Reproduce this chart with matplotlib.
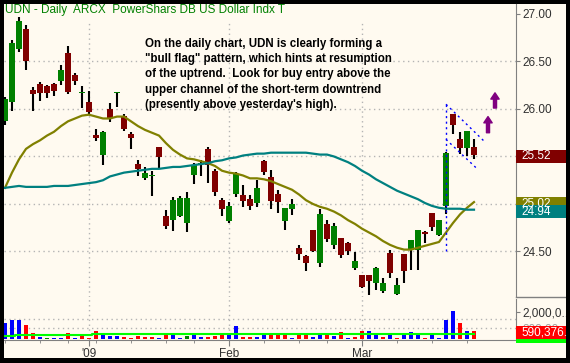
import numpy as np
import pandas as pd
import matplotlib
matplotlib.use('Agg')
import matplotlib.pyplot as plt
from matplotlib.patches import Rectangle
from matplotlib.transforms import blended_transform_factory

################################################################
# data (UDN daily, Dec 15 2008 - Mar 24 2009)

holidays = ['2008-12-25', '2009-01-01', '2009-01-19', '2009-02-16']
dates = pd.bdate_range('2008-12-15', '2009-03-24', freq='C', holidays=holidays)

opens = [25.87, 26.07, 26.63, 26.84, 26.20, 26.26, 26.24, 26.26, 26.29, 26.59,
         26.36, 26.17, 26.07, 25.73, 25.52, 26.00, 26.17, 25.93, 25.74, 25.42,
         25.27, 25.29, 25.60, 24.87, 24.83, 24.87, 24.80, 25.30, 25.42, 25.58,
         25.35, 25.04, 24.82, 25.11, 25.09, 25.05, 25.01, 25.45, 25.28, 25.11,
         24.82, 24.95, 24.54, 24.45, 24.73, 24.38, 24.79, 24.57, 24.64, 24.59,
         24.33, 24.25, 24.25, 24.17, 24.08, 24.48, 24.05, 24.47, 24.52, 24.52,
         24.71, 24.91, 24.67, 24.98, 25.95, 25.68, 25.59, 25.60]
highs = [26.13, 26.73, 26.97, 26.88, 26.23, 26.28, 26.25, 26.27, 26.46, 26.66,
         26.38, 26.24, 26.19, 25.79, 25.77, 26.06, 26.18, 25.95, 25.76, 25.46,
         25.39, 25.35, 25.60, 24.94, 25.07, 25.08, 25.13, 25.43, 25.46, 25.60,
         25.37, 25.06, 25.02, 25.34, 25.20, 25.09, 25.25, 25.46, 25.36, 25.15,
         24.96, 25.05, 24.57, 24.46, 24.73, 24.95, 24.83, 24.80, 24.64, 24.60,
         24.49, 24.25, 24.25, 24.34, 24.22, 24.52, 24.22, 24.47, 24.62, 24.73,
         24.72, 24.91, 24.83, 25.55, 25.95, 25.76, 25.77, 25.68]
lows = [25.83, 25.98, 26.60, 26.41, 25.98, 26.08, 26.12, 26.14, 26.25, 26.16,
        26.25, 26.01, 25.95, 25.66, 25.41, 25.86, 26.02, 25.77, 25.58, 25.29,
        25.25, 25.08, 25.38, 24.74, 24.72, 24.86, 24.70, 25.21, 25.29, 25.22,
        25.08, 24.87, 24.80, 25.07, 24.97, 24.94, 24.97, 25.31, 24.95, 24.91,
        24.73, 24.88, 24.41, 24.29, 24.49, 24.34, 24.60, 24.53, 24.43, 24.46,
        24.30, 24.12, 24.04, 24.09, 24.06, 24.22, 24.04, 24.17, 24.31, 24.31,
        24.59, 24.72, 24.66, 24.89, 25.74, 25.53, 25.50, 25.47]
closes = [26.11, 26.69, 26.93, 26.51, 26.16, 26.17, 26.17, 26.19, 26.41, 26.18,
          26.29, 26.18, 25.97, 25.69, 25.76, 25.91, 26.18, 25.79, 25.69, 25.37,
          25.33, 25.30, 25.49, 24.77, 25.04, 25.06, 25.06, 25.41, 25.43, 25.41,
          25.13, 24.95, 24.98, 25.32, 25.03, 24.98, 25.17, 25.34, 25.03, 25.02,
          24.96, 25.00, 24.47, 24.38, 24.50, 24.89, 24.63, 24.77, 24.46, 24.51,
          24.40, 24.13, 24.19, 24.33, 24.17, 24.27, 24.15, 24.29, 24.62, 24.73,
          24.68, 24.76, 24.83, 25.54, 25.83, 25.59, 25.77, 25.52]

# 20 day (olive) and 50 day (teal) moving averages as drawn
ma_short = [25.17, 25.33, 25.47, 25.58, 25.63, 25.67, 25.72, 25.76, 25.82, 25.87,
            25.90, 25.93, 25.94, 25.92, 25.90, 25.90, 25.92, 25.92, 25.87, 25.82,
            25.78, 25.75, 25.72, 25.64, 25.57, 25.52, 25.48, 25.47, 25.45, 25.43,
            25.40, 25.35, 25.33, 25.32, 25.30, 25.27, 25.27, 25.26, 25.24, 25.21,
            25.18, 25.15, 25.10, 25.04, 25.00, 24.97, 24.95, 24.92, 24.88, 24.83,
            24.79, 24.74, 24.70, 24.66, 24.61, 24.57, 24.54, 24.52, 24.52, 24.54,
            24.56, 24.58, 24.60, 24.70, 24.80, 24.89, 24.96, 25.02]
ma_long = [25.17, 25.18, 25.19, 25.18, 25.18, 25.18, 25.18, 25.19, 25.19, 25.19,
           25.20, 25.21, 25.22, 25.23, 25.25, 25.29, 25.31, 25.33, 25.34, 25.35,
           25.36, 25.37, 25.37, 25.38, 25.39, 25.39, 25.40, 25.41, 25.42, 25.43,
           25.45, 25.46, 25.48, 25.49, 25.51, 25.52, 25.53, 25.53, 25.54, 25.54,
           25.54, 25.54, 25.54, 25.54, 25.53, 25.52, 25.52, 25.50, 25.47, 25.44,
           25.40, 25.35, 25.31, 25.26, 25.22, 25.18, 25.14, 25.11, 25.08, 25.05,
           25.01, 24.98, 24.96, 24.95, 24.95, 24.95, 24.94, 24.94]

# volume, millions of shares
volume = [1.19, 1.38, 1.38, 1.04, 0.44, 0.15, 0.07, 0.07, 0.07, 0.44,
          0.07, 0.29, 0.07, 0.58, 0.39, 0.22, 0.22, 0.15, 0.07, 0.22,
          0.15, 0.15, 0.07, 0.39, 0.39, 0.07, 0.22, 0.29, 0.15, 0.15,
          0.22, 0.29, 0.29, 0.95, 0.15, 0.15, 0.15, 0.29, 0.29, 0.29,
          0.29, 0.07, 0.36, 0.29, 0.15, 0.29, 0.44, 0.22, 0.51, 0.07,
          0.15, 0.58, 0.58, 0.29, 0.15, 0.36, 0.07, 0.29, 0.51, 0.44,
          0.07, 0.44, 0.07, 1.38, 2.04, 1.16, 0.58, 0.59]
volume_avg = [0.22, 0.22, 0.29, 0.29, 0.29, 0.29, 0.29, 0.29, 0.29, 0.29,
              0.29, 0.29, 0.29, 0.36, 0.36, 0.36, 0.36, 0.36, 0.36, 0.36,
              0.36, 0.36, 0.36, 0.36, 0.36, 0.36, 0.36, 0.36, 0.36, 0.36,
              0.36, 0.36, 0.36, 0.36, 0.36, 0.36, 0.36, 0.36, 0.36, 0.36,
              0.36, 0.36, 0.36, 0.36, 0.36, 0.36, 0.36, 0.36, 0.36, 0.36,
              0.36, 0.36, 0.36, 0.36, 0.36, 0.36, 0.36, 0.36, 0.36, 0.36,
              0.36, 0.36, 0.36, 0.36, 0.36, 0.36, 0.36, 0.36]
last_volume = 590376

# flag drawing and arrows (bar index, price)
flag_pole = ([63.0, 63.0], [24.50, 26.05])
flag_upper = ([63.0, 68.6], [26.05, 25.65])
flag_lower = ([63.0, 67.6], [25.68, 25.36])
arrows = [((69.0, 25.75), (69.0, 25.92)), ((70.0, 26.01), (70.0, 26.17))]

title = 'UDN - Daily  ARCX  PowerShars DB US Dollar Indx T'
note = ('On the daily chart, UDN is clearly forming a\n'
        '"bull flag" pattern, which hints at resumption\n'
        'of the uptrend.  Look for buy entry above the\n'
        'upper channel of the short-term downtrend\n'
        '(presently above yesterday\'s high).')

################################################################

plt.rcParams['font.family'] = ['Liberation Sans', 'DejaVu Sans']

W, H = 570, 363
CREAM = '#fffaf0'
GRID = '#b4b4b4'
AXC = '#808080'
TXT = '#303030'


def fx(x):
    return x / W


def fy(y):
    return 1 - y / H


idx = np.arange(len(dates))
o = np.array(opens)
c = np.array(closes)
vol = np.array(volume) * 1e6

fig = plt.figure(figsize=(W / 100, H / 100), dpi=100, facecolor='black')
fig.add_artist(Rectangle((fx(3.5), fy(358)), fx(566) - fx(3.5), fy(4) - fy(358),
                         transform=fig.transFigure, facecolor=CREAM,
                         edgecolor='none', zorder=-1))

ax = fig.add_axes([fx(3.5), fy(297), fx(516) - fx(3.5), fy(4) - fy(297)])
axv = fig.add_axes([fx(3.5), fy(340), fx(516) - fx(3.5), fy(299) - fy(340)],
                   sharex=ax)

for a in (ax, axv):
    a.set_facecolor(CREAM)
    for s in ('left', 'top', 'bottom'):
        a.spines[s].set_visible(False)
    a.spines['right'].set_color(AXC)
axv.spines['bottom'].set_visible(True)
axv.spines['bottom'].set_color(AXC)

# month / week positions
months = [i for i in range(1, len(dates)) if dates[i].month != dates[i - 1].month]
weeks = [i for i in range(len(dates))
         if i == 0 or dates[i].weekday() < dates[i - 1].weekday()]
month_labels = ["'" + str(dates[i].year)[2:] if dates[i].month == 1
                else dates[i].strftime('%b') for i in months]

# price panel
for lvl in [24.5, 25.0, 25.5, 26.0, 26.5]:
    ax.axhline(lvl, color=GRID, lw=1, ls=(0, (1, 2.5)), zorder=1)
for m in months:
    ax.axvline(m, ymax=0.945, color=GRID, lw=1, ls=(0, (1, 2.5)), zorder=1)
    axv.axvline(m, color=GRID, lw=1, ls=(0, (1, 2.5)), zorder=1)

body_col = np.where(c >= o, '#008000', '#800000')
ax.vlines(idx, lows, highs, color='black', lw=1.5, zorder=2)
ax.bar(idx, np.maximum(np.abs(c - o), 0.012), bottom=np.minimum(o, c),
       width=0.8, color=body_col, zorder=3)

ax.plot(idx, ma_short, color='#808000', lw=1.6, zorder=4)
ax.plot(idx, ma_long, color='#008080', lw=1.6, zorder=4)

for xs, ys in (flag_pole, flag_upper, flag_lower):
    ax.plot(xs, ys, color='blue', lw=1, ls=(0, (1.5, 2.5)), zorder=5)
for tail, tip in arrows:
    ax.annotate('', xy=tip, xytext=tail, zorder=6,
                arrowprops=dict(arrowstyle='simple,head_length=0.45,head_width=0.6,tail_width=0.22',
                                color='#800080', shrinkA=0, shrinkB=0, mutation_scale=10))

ax.set_xlim(-0.214, 73.0)
ax.set_ylim(24.021, 27.105)
ax.yaxis.tick_right()
ax.set_yticks([24.5, 25.0, 25.5, 26.0, 26.5, 27.0])
ax.set_yticklabels(['%.2f' % v for v in [24.5, 25.0, 25.5, 26.0, 26.5, 27.0]])
ax.tick_params(axis='y', direction='out', length=3, color=AXC,
               labelsize=8.5, labelcolor=TXT, pad=1.5)
ax.tick_params(axis='x', which='both', bottom=False, labelbottom=False)

# last value boxes on the price axis
bt = blended_transform_factory(ax.transAxes, ax.transData)
bw = 52 / 512.5
bh = 13.4 / 95
for val, col in ((closes[-1], '#800000'), (ma_short[-1], '#808000'),
                 (ma_long[-1], '#008080')):
    yc = val - 0.02
    ax.add_patch(Rectangle((1.0, yc - bh / 2), bw, bh, transform=bt,
                           facecolor=col, edgecolor='none', clip_on=False, zorder=10))
    ax.text(1.0 + 5 / 512.5, yc, '%.2f' % val, transform=bt, color='white',
            fontsize=8.5, va='center', ha='left', clip_on=False, zorder=11)
ax.plot([1.0, 1.0 + bw], [0, 0], transform=ax.transAxes, color=AXC, lw=1,
        clip_on=False)

# volume panel
vcol = ['#0000ff'] + ['#0000ff' if d > 0 else '#ff0000' if d < 0 else '#008000'
                      for d in np.round(np.diff(c), 4)]
for lvl in [0.8e6, 1.45e6]:
    axv.axhline(lvl, color=GRID, lw=1, ls=(0, (1, 2.5)), zorder=1)
axv.bar(idx, vol, width=0.43, color=vcol, zorder=3)
axv.plot(idx, np.array(volume_avg) * 1e6, color='#00ff00', lw=1.5,
         drawstyle='steps-mid', zorder=4)
axv.set_ylim(-0.073e6, 2.91e6)
axv.yaxis.tick_right()
axv.set_yticks([0.8e6, 2.0e6])
axv.set_yticklabels(['800,00...', '2,000,0...'])
axv.tick_params(axis='y', direction='out', length=3, color=AXC,
                labelsize=8.5, labelcolor=TXT, pad=1.5)
axv.get_yticklabels()[0].set_color('#a0a0a0')

vt = blended_transform_factory(axv.transAxes, axv.transData)
vh = 13 / 13.75 * 1e6
axv.add_patch(Rectangle((1.0, volume_avg[-1] * 1e6 - 0.15e6 - vh / 2), bw, vh,
                        transform=vt, facecolor='#00ff00', edgecolor='none',
                        clip_on=False, zorder=10))
yc = last_volume - 0.12e6
axv.add_patch(Rectangle((1.0, yc - vh / 2), bw, vh, transform=vt,
                        facecolor='#ff0000', edgecolor='none', clip_on=False, zorder=11))
axv.text(1.0 + 5 / 512.5, yc, '{:,.1f}'.format(last_volume), transform=vt,
         color='white', fontsize=8.5, va='center', ha='left', clip_on=False, zorder=12)

axv.set_xticks(months)
axv.set_xticklabels(month_labels)
axv.set_xticks(weeks, minor=True)
axv.tick_params(axis='x', which='major', direction='out', length=4, color=AXC,
                labelsize=8.5, labelcolor=TXT, pad=2)
axv.tick_params(axis='x', which='minor', direction='out', length=2, color=AXC)

# texts
fig.text(fx(5), fy(10.5), title, color='#008000', fontsize=8.5, va='center')
fig.text(fx(145), fy(74.5), note, fontsize=8.3, fontweight='bold',
         va='center', ha='left', linespacing=1.37)

# black frame over anything spilling past the right edge
fig.add_artist(Rectangle((fx(566), 0), 1 - fx(566), 1, transform=fig.transFigure,
                         facecolor='black', edgecolor='none', zorder=50))

fig.savefig('out.png', dpi=100, facecolor='black')
